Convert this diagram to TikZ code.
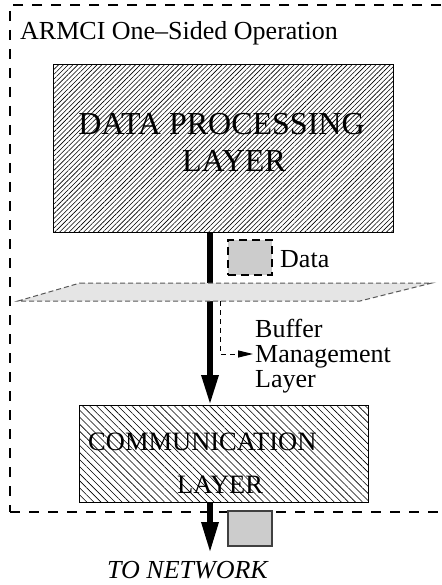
\documentclass[tikz,border=0pt]{standalone}
\usepackage{fontspec}
\setmainfont{Liberation Serif}
\usetikzlibrary{patterns.meta,arrows.meta}
\definecolor{boxgray}{gray}{0.8}
\definecolor{planegray}{gray}{0.9}
\tikzset{
  frame/.style={line width=1.3pt,dash pattern=on 10pt off 9pt},
  lbl/.style={inner sep=0pt,anchor=base west,font=\fontsize{26}{25}\selectfont},
  flow/.style={line width=6pt,-{Triangle[length=30pt,width=16pt]}},
  packet/.style={fill=boxgray,line width=1.2pt,minimum width=44pt,minimum height=35pt,inner sep=0pt},
}
\begin{document}
\begin{tikzpicture}[x=1pt,y=-1pt]
\useasboundingbox (0,0) rectangle (441,585);

% outer dashed frame (open on the right)
\coordinate (fr0) at (441,5);
\coordinate (fr1) at (10,5);
\coordinate (fr2) at (10,512);
\coordinate (fr3) at (441,512);
\draw[frame] (fr0) -- (fr1) -- (fr2);
\draw[frame] (fr2) -- (fr3);

\node[lbl] (title) at (20,40) {ARMCI One--Sided Operation};

% upper layer: text first, hatching on top of it
\node[lbl,font=\fontsize{32}{32}\selectfont,anchor=base] (dp1) at (221.5,135) {DATA PROCESSING};
\node[lbl,font=\fontsize{32}{32}\selectfont,anchor=base] (dp2) at (234,172) {LAYER};
\draw[pattern={Lines[angle=45,distance=3.4pt,line width=0.6pt]},line width=1pt]
  (53,65) rectangle (393,232);
\coordinate (dpb) at (210,232);

% lower layer
\node[lbl,font=\fontsize{26.5}{26.5}\selectfont] (cl1) at (88,450) {COMMUNICATION};
\node[lbl,font=\fontsize{26.5}{26.5}\selectfont] (cl2) at (177,493) {LAYER};
\draw[pattern={Lines[angle=-45,distance=5pt,line width=0.6pt]},line width=1pt]
  (79,405) rectangle (368,502);
\coordinate (clt) at (210,405);
\coordinate (clb) at (210,502);

% main data flow
\draw[flow] (dpb) -- (clt);

% buffer plane
\coordinate (p1) at (80,283);
\coordinate (p2) at (432,283);
\coordinate (p3) at (360,301);
\coordinate (p4) at (18,301);
\fill[planegray] (p1) -- (p2) -- (p3) -- (p4) -- cycle;
\draw[gray!70!black,line width=1pt,dash pattern=on 5pt off 3pt] (p1) -- (p2) -- (p3) -- (p4) -- cycle;

% data packet above the plane
\node[packet,draw,dash pattern=on 8pt off 5pt] (data) at (250,257.5) {};
\node[lbl] (datalbl) at (280,267) {Data};

% buffer management label and its pointer
\node[lbl,align=left] (bml) at (255,387) {Buffer\\Management\\Layer};
\coordinate (b0) at (220,301);
\coordinate (b1) at (220,354);
\coordinate (b2) at (253,354);
\draw[line width=0.9pt,dash pattern=on 5pt off 4pt,-{Triangle[length=15pt,width=7pt]}] (b0) -- (b1) -- (b2);

% to network
\coordinate (net) at (210,553);
\draw[flow,-{Triangle[length=31pt,width=16pt]}] (clb) -- (net);
\node[packet,draw=black!75] (pkt) at (250,528.5) {};
\node[lbl,font=\fontsize{26}{26}\selectfont\itshape] (netlbl) at (107,578) {TO NETWORK};
\end{tikzpicture}
\end{document}
